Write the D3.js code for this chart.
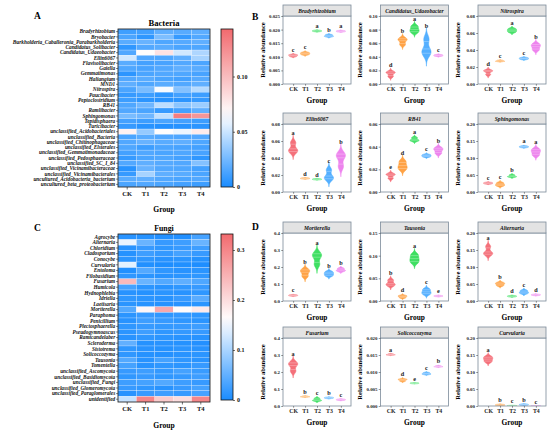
<!DOCTYPE html>
<html>
<head>
<meta charset="utf-8">
<script src="https://cdn.jsdelivr.net/npm/d3@7"></script>
<style>
  html, body { margin: 0; padding: 0; background: #fff; }
  svg { display: block; }
</style>
</head>
<body>
<div id="vis"></div>
<script>
const groups = ["CK", "T1", "T2", "T3", "T4"];

// ---- heatmap A: bacteria genera ----
const bacteriaTaxa = [
  "Bradyrhizobium", "Bryobacter", "Burkholderia_Caballeronia_Paraburkholderia",
  "Candidatus_Solibacter", "Candidatus_Udaeobacter", "Ellin6067", "Flavisolibacter",
  "Gaiella", "Gemmatimonas", "Haliangium", "MND1", "Nitrospira", "Paucibacter",
  "Peptoclostridium", "RB41", "Ramlibacter", "Sphingomonas", "Tepidisphaera",
  "Turicibacter", "unclassified_Acidobacteriales", "unclassified_Bacteria",
  "unclassified_Chitinophagaceae", "unclassified_Elsterales",
  "unclassified_Gemmatimonadaceae", "unclassified_Pedosphaeraceae",
  "unclassified_SC_I_84", "unclassified_Vicinamibacteraceae",
  "unclassified_Vicinamibacterales", "uncultured_Acidobacteria_bacterium",
  "uncultured_beta_proteobacterium"
];
const bacteriaValues = [
  [0.0105, 0.0112, 0.0195, 0.0177, 0.0194],
  [0.014, 0.006, 0.028, 0.008, 0.016],
  [0.018, 0.022, 0.015, 0.017, 0.020],
  [0.006, 0.016, 0.018, 0.014, 0.015],
  [0.016, 0.066, 0.080, 0.052, 0.042],
  [0.052, 0.016, 0.015, 0.020, 0.040],
  [0.018, 0.012, 0.013, 0.016, 0.014],
  [0.015, 0.013, 0.016, 0.020, 0.018],
  [0.005, 0.014, 0.016, 0.015, 0.013],
  [0.016, 0.018, 0.014, 0.012, 0.017],
  [0.020, 0.015, 0.018, 0.016, 0.020],
  [0.014, 0.027, 0.063, 0.030, 0.044],
  [0.008, 0.010, 0.006, 0.012, 0.010],
  [0.010, 0.005, 0.004, 0.005, 0.008],
  [0.015, 0.024, 0.046, 0.032, 0.037],
  [0.016, 0.014, 0.008, 0.012, 0.020],
  [0.027, 0.024, 0.047, 0.133, 0.120],
  [0.012, 0.010, 0.014, 0.012, 0.010],
  [0.008, 0.004, 0.003, 0.004, 0.005],
  [0.072, 0.035, 0.066, 0.060, 0.075],
  [0.014, 0.018, 0.016, 0.015, 0.016],
  [0.016, 0.022, 0.018, 0.020, 0.015],
  [0.015, 0.010, 0.014, 0.013, 0.012],
  [0.012, 0.016, 0.014, 0.015, 0.013],
  [0.008, 0.014, 0.015, 0.012, 0.006],
  [0.016, 0.020, 0.017, 0.016, 0.030],
  [0.004, 0.022, 0.016, 0.015, 0.012],
  [0.008, 0.040, 0.020, 0.018, 0.014],
  [0.018, 0.020, 0.016, 0.014, 0.016],
  [0.014, 0.016, 0.014, 0.012, 0.010]
];
const bacteriaScale = [0, 0.065, 0.143];
const bacteriaTicks = [0, 0.05, 0.10];

// ---- heatmap C: fungal genera ----
const fungiTaxa = [
  "Agrocybe", "Alternaria", "Chloridium", "Cladosporium", "Conocybe", "Curvularia",
  "Entoloma", "Filobasidium", "Fusarium", "Humicola", "Hydnophlebia", "Idriella",
  "Laetisaria", "Mortierella", "Paraphoma", "Penicillium", "Plectosphaerella",
  "Pseudogymnoascus", "Ramicandelaber", "Scleroderma", "Sistotrema", "Solicoccozyma",
  "Tausonia", "Tomentella", "unclassified_Ascomycota", "unclassified_Basidiomycota",
  "unclassified_Fungi", "unclassified_Glomeromycota", "unclassified_Paraglomerales",
  "unidentified"
];
const fungiValues = [
  [0.010, 0.008, 0.006, 0.004, 0.030],
  [0.145, 0.055, 0.020, 0.025, 0.055],
  [0.010, 0.020, 0.015, 0.020, 0.025],
  [0.008, 0.025, 0.018, 0.030, 0.020],
  [0.012, 0.015, 0.010, 0.012, 0.008],
  [0.140, 0.005, 0.003, 0.005, 0.003],
  [0.005, 0.040, 0.015, 0.010, 0.012],
  [0.015, 0.012, 0.010, 0.012, 0.015],
  [0.240, 0.055, 0.040, 0.048, 0.037],
  [0.030, 0.012, 0.010, 0.015, 0.020],
  [0.010, 0.008, 0.012, 0.010, 0.015],
  [0.015, 0.012, 0.010, 0.020, 0.045],
  [0.012, 0.010, 0.008, 0.010, 0.012],
  [0.040, 0.170, 0.260, 0.165, 0.185],
  [0.012, 0.020, 0.015, 0.018, 0.015],
  [0.010, 0.025, 0.020, 0.015, 0.012],
  [0.015, 0.020, 0.018, 0.020, 0.025],
  [0.012, 0.025, 0.015, 0.018, 0.020],
  [0.010, 0.015, 0.012, 0.010, 0.010],
  [0.050, 0.008, 0.010, 0.008, 0.006],
  [0.015, 0.010, 0.008, 0.012, 0.010],
  [0.015, 0.008, 0.007, 0.010, 0.012],
  [0.040, 0.010, 0.030, 0.015, 0.011],
  [0.030, 0.010, 0.015, 0.012, 0.020],
  [0.020, 0.025, 0.018, 0.030, 0.022],
  [0.015, 0.020, 0.015, 0.018, 0.025],
  [0.025, 0.030, 0.040, 0.025, 0.020],
  [0.020, 0.015, 0.010, 0.020, 0.030],
  [0.010, 0.020, 0.025, 0.020, 0.030],
  [0.120, 0.300, 0.220, 0.200, 0.300]
];
const fungiScale = [0, 0.16, 0.332];
const fungiTicks = [0, 0.1, 0.2, 0.3];

// ---- violins B: replicate relative abundances per group ----
const bacteriaGenera = ["Bradyrhizobium", "Candidatus_Udaeobacter", "Nitrospira",
                        "Ellin6067", "RB41", "Sphingomonas"];
const bacteriaReplicates = [
  [[0.0101, 0.0105, 0.0108], [0.0108, 0.0112, 0.0116], [0.0193, 0.0195, 0.0197], [0.0174, 0.0177, 0.0181], [0.0192, 0.0194, 0.0196]],
  [[0.011, 0.016, 0.018], [0.058, 0.064, 0.067], [0.076, 0.080, 0.085], [0.044, 0.050, 0.066], [0.041, 0.042, 0.043]],
  [[0.011, 0.015, 0.016], [0.0265, 0.027, 0.0278], [0.061, 0.063, 0.065], [0.029, 0.030, 0.031], [0.040, 0.044, 0.047]],
  [[0.047, 0.050, 0.058], [0.0155, 0.016, 0.0165], [0.0145, 0.015, 0.0155], [0.015, 0.018, 0.026], [0.030, 0.041, 0.045]],
  [[0.012, 0.015, 0.016], [0.020, 0.023, 0.027], [0.045, 0.046, 0.048], [0.031, 0.032, 0.033], [0.034, 0.037, 0.039]],
  [[0.024, 0.026, 0.028], [0.018, 0.022, 0.027], [0.044, 0.046, 0.050], [0.131, 0.133, 0.135], [0.108, 0.118, 0.126]]
];
const bacteriaLetters = [
  ["c", "c", "a", "b", "a"], ["d", "b", "a", "b", "c"], ["d", "c", "a", "c", "b"],
  ["a", "d", "d", "c", "b"], ["e", "d", "a", "c", "b"], ["c", "c", "b", "a", "a"]
];
const bacteriaYMax = [0.025, 0.10, 0.08, 0.08, 0.06, 0.20];
const bacteriaYStep = [0.005, 0.02, 0.02, 0.02, 0.02, 0.05];

// ---- violins D ----
const fungiGenera = ["Mortierella", "Tausonia", "Alternaria",
                     "Fusarium", "Solicoccozyma", "Curvularia"];
const fungiReplicates = [
  [[0.030, 0.033, 0.036], [0.145, 0.170, 0.185], [0.215, 0.260, 0.280], [0.148, 0.160, 0.172], [0.175, 0.182, 0.192]],
  [[0.034, 0.038, 0.046], [0.007, 0.010, 0.012], [0.085, 0.093, 0.102], [0.015, 0.020, 0.026], [0.010, 0.011, 0.012]],
  [[0.137, 0.142, 0.160], [0.045, 0.050, 0.054], [0.0125, 0.014, 0.0155], [0.022, 0.026, 0.031], [0.0165, 0.018, 0.0195]],
  [[0.205, 0.240, 0.255], [0.053, 0.055, 0.058], [0.030, 0.035, 0.045], [0.045, 0.048, 0.051], [0.034, 0.037, 0.040]],
  [[0.0150, 0.0151, 0.0153], [0.0073, 0.0077, 0.0079], [0.0066, 0.0067, 0.0068], [0.0093, 0.0095, 0.0098], [0.0115, 0.0116, 0.0118]],
  [[0.130, 0.138, 0.145], [0.0015, 0.003, 0.0045], [0.0004, 0.001, 0.0016], [0.0025, 0.004, 0.0055], [0.0002, 0.0006, 0.0010]]
];
const fungiLetters = [
  ["c", "b", "a", "b", "b"], ["b", "d", "a", "c", "e"], ["a", "b", "d", "c", "d"],
  ["a", "b", "c", "b", "c"], ["a", "d", "e", "c", "b"], ["a", "b", "c", "b", "c"]
];
const fungiYMax = [0.4, 0.15, 0.20, 0.4, 0.020, 0.20];
const fungiYStep = [0.1, 0.05, 0.05, 0.1, 0.005, 0.05];

const groupColors = ["#f3646f", "#ff9a35", "#2fdc55", "#45a8ff", "#ec7aec"];

const font = `"Liberation Serif", "DejaVu Serif", "Times New Roman", serif`;
const frameColor = "#7c8b99";

const svg = d3.select("#vis").append("svg")
  .attr("width", 550).attr("height", 432)
  .style("font-family", font);
svg.append("rect").attr("width", 550).attr("height", 432).attr("fill", "#fff");
const defs = svg.append("defs");

function panelLetter(txt, x, y) {
  svg.append("text").attr("x", x).attr("y", y)
    .attr("font-size", 9.5).attr("font-weight", "bold").text(txt);
}

function drawHeatmap(opt) {
  const g = svg.append("g");
  const x = d3.scaleBand().domain(groups).range([opt.x0, opt.x0 + opt.w]);
  const y = d3.scaleBand().domain(opt.taxa).range([opt.y0, opt.y0 + opt.h]);
  const color = d3.scaleLinear().domain(opt.scale)
    .range(["#1a8cff", "#ffffff", "#f26a6e"]).clamp(true);

  opt.taxa.forEach((t, i) => {
    g.selectAll(null).data(opt.values[i]).join("rect")
      .attr("x", (d, j) => x(groups[j]))
      .attr("y", y(t))
      .attr("width", x.bandwidth())
      .attr("height", y.bandwidth())
      .attr("fill", d => color(d))
      .attr("stroke", "#ffffff").attr("stroke-opacity", 0.55).attr("stroke-width", 0.4);
  });
  g.append("rect").attr("x", opt.x0).attr("y", opt.y0)
    .attr("width", opt.w).attr("height", opt.h)
    .attr("fill", "none").attr("stroke", "#111").attr("stroke-width", 0.8);

  const yAxis = g.append("g").attr("transform", `translate(${opt.x0},0)`)
    .call(d3.axisLeft(y).tickSize(2).tickPadding(0.8));
  yAxis.select(".domain").remove();
  yAxis.selectAll("line").attr("stroke", "#111").attr("stroke-width", 0.5);
  yAxis.selectAll("text").attr("font-family", font).attr("font-size", 5.3)
    .attr("font-style", "italic").attr("font-weight", "bold").attr("fill", "#111");

  const xAxis = g.append("g").attr("transform", `translate(0,${opt.y0 + opt.h})`)
    .call(d3.axisBottom(x).tickSize(2.5).tickPadding(2));
  xAxis.select(".domain").remove();
  xAxis.selectAll("line").attr("stroke", "#111").attr("stroke-width", 0.6);
  xAxis.selectAll("text").attr("font-family", font).attr("font-size", 6.5)
    .attr("font-weight", "bold").attr("fill", "#111");

  g.append("text").attr("x", opt.x0 + opt.w / 2).attr("y", opt.groupY)
    .attr("text-anchor", "middle").attr("font-size", 7.6).attr("font-weight", "bold")
    .text("Group");
  g.append("text").attr("x", opt.x0 + opt.w / 2).attr("y", opt.titleY)
    .attr("text-anchor", "middle").attr("font-size", opt.titleSize).attr("font-weight", "bold")
    .text(opt.title);

  // colour bar
  const cb = d3.scaleLinear().domain([opt.scale[0], opt.scale[2]])
    .range([opt.cbBottom, opt.y0]);
  const gradId = "grad-" + opt.title;
  const grad = defs.append("linearGradient").attr("id", gradId)
    .attr("x1", 0).attr("y1", 1).attr("x2", 0).attr("y2", 0);
  d3.range(0, 11).forEach(i => {
    const v = opt.scale[0] + (opt.scale[2] - opt.scale[0]) * i / 10;
    grad.append("stop").attr("offset", i / 10).attr("stop-color", color(v));
  });
  g.append("rect").attr("x", opt.cbX).attr("y", opt.y0)
    .attr("width", 12).attr("height", opt.cbBottom - opt.y0)
    .attr("fill", `url(#${gradId})`).attr("stroke", "#111").attr("stroke-width", 0.8);
  const cbAxis = g.append("g").attr("transform", `translate(${opt.cbX + 12},0)`)
    .call(d3.axisRight(cb).tickValues(opt.ticks).tickSize(2).tickPadding(2)
      .tickFormat(d => d === 0 ? "0" : d3.format(opt.tickFmt)(d)));
  cbAxis.select(".domain").remove();
  cbAxis.selectAll("line").attr("stroke", "#111").attr("stroke-width", 0.6);
  cbAxis.selectAll("text").attr("font-family", font).attr("font-size", 6)
    .attr("font-weight", "bold").attr("fill", "#111");
}

// kernel density, gaussian kernel with R's nrd0 bandwidth
function bandwidth(v) {
  const s = d3.deviation(v);
  const sorted = v.slice().sort(d3.ascending);
  const iqr = d3.quantileSorted(sorted, 0.75) - d3.quantileSorted(sorted, 0.25);
  let lo = Math.min(s, iqr / 1.34);
  if (!(lo > 0)) lo = s || Math.abs(v[0]) || 1;
  return 0.9 * lo * Math.pow(v.length, -0.2);
}
function density(v) {
  const bw = bandwidth(v);
  const lo = d3.min(v) - 3 * bw, hi = d3.max(v) + 3 * bw;
  const grid = d3.range(0, 101).map(i => lo + (hi - lo) * i / 100);
  const pts = grid.map(t => [t, d3.mean(v, d => Math.exp(-0.5 * ((t - d) / bw) ** 2))]);
  return { pts, bw };
}

function drawViolinPanel(name, reps, letters, yMax, yStep, x0, top) {
  const w = 68, stripH = 11;
  const plotTop = top + stripH, plotBottom = top + 79;
  const g = svg.append("g");
  const x = d3.scalePoint().domain(groups).range([x0, x0 + w]).padding(0.85);
  const y = d3.scaleLinear().domain([0, yMax]).range([plotBottom, plotTop]);
  const halfW = 4.6;

  const clipId = "clip-" + name;
  defs.append("clipPath").attr("id", clipId).append("rect")
    .attr("x", x0).attr("y", plotTop).attr("width", w).attr("height", plotBottom - plotTop);

  g.append("rect").attr("x", x0).attr("y", plotTop).attr("width", w)
    .attr("height", plotBottom - plotTop).attr("fill", "#fff");

  const vg = g.append("g").attr("clip-path", `url(#${clipId})`);
  reps.forEach((v, j) => {
    const { pts, bw } = density(v);
    const maxD = d3.max(pts, d => d[1]);
    const cx = x(groups[j]);
    const area = d3.area()
      .x0(d => cx - halfW * d[1] / maxD)
      .x1(d => cx + halfW * d[1] / maxD)
      .y(d => y(d[0]))
      .curve(d3.curveBasis);
    vg.append("path").attr("d", area(pts))
      .attr("fill", groupColors[j]).attr("fill-opacity", 0.92)
      .attr("stroke", groupColors[j]).attr("stroke-width", 0.5);

    // quantile lines from the density's cumulative distribution
    const cum = [0];
    for (let i = 1; i < pts.length; i++) {
      cum.push(cum[i - 1] + (pts[i][1] + pts[i - 1][1]) / 2);
    }
    const total = cum[cum.length - 1];
    [0.25, 0.5, 0.75].forEach(q => {
      const i = d3.bisectLeft(cum, q * total);
      const p = pts[Math.min(i, pts.length - 1)];
      const hw = halfW * p[1] / maxD;
      vg.append("line")
        .attr("x1", cx - hw).attr("x2", cx + hw)
        .attr("y1", y(p[0])).attr("y2", y(p[0]))
        .attr("stroke", "#ffffff").attr("stroke-opacity", 0.55).attr("stroke-width", 0.5);
    });

    g.append("text").attr("x", cx).attr("y", y(d3.max(v) + 2.2 * bw) - 1.8)
      .attr("text-anchor", "middle").attr("font-size", 6.2).attr("font-weight", "bold")
      .attr("fill", "#222").text(letters[j]);
  });

  g.append("rect").attr("x", x0).attr("y", plotTop).attr("width", w)
    .attr("height", plotBottom - plotTop).attr("fill", "none")
    .attr("stroke", frameColor).attr("stroke-width", 0.8);
  g.append("rect").attr("x", x0).attr("y", top).attr("width", w).attr("height", stripH)
    .attr("fill", "#e3e3e3").attr("stroke", frameColor).attr("stroke-width", 0.8);
  g.append("text").attr("x", x0 + w / 2).attr("y", top + stripH / 2 + 2)
    .attr("text-anchor", "middle").attr("font-size", 5.6)
    .attr("font-style", "italic").attr("font-weight", "bold").attr("fill", "#111")
    .text(name);

  const ticks = d3.range(0, yMax + yStep / 2, yStep);
  const yAxis = g.append("g").attr("transform", `translate(${x0},0)`)
    .call(d3.axisLeft(y).tickValues(ticks).tickSize(1.8).tickPadding(1.2)
      .tickFormat(d3.format("." + d3.precisionFixed(yStep) + "f")));
  yAxis.select(".domain").remove();
  yAxis.selectAll("line").attr("stroke", "#333").attr("stroke-width", 0.5);
  yAxis.selectAll("text").attr("font-family", font).attr("font-size", 4.9)
    .attr("font-weight", "bold").attr("fill", "#222");

  const xAxis = g.append("g").attr("transform", `translate(0,${plotBottom})`)
    .call(d3.axisBottom(x).tickSize(1.8).tickPadding(1.5));
  xAxis.select(".domain").remove();
  xAxis.selectAll("line").attr("stroke", "#333").attr("stroke-width", 0.5);
  xAxis.selectAll("text").attr("font-family", font).attr("font-size", 5.8)
    .attr("font-weight", "bold").attr("fill", "#222");

  g.append("text").attr("x", x0 + w / 2).attr("y", plotBottom + 18.5)
    .attr("text-anchor", "middle").attr("font-size", 7.4).attr("font-weight", "bold")
    .text("Group");
  const cy = (plotTop + plotBottom) / 2;
  g.append("text").attr("transform", `translate(${x0 - 18.5},${cy}) rotate(-90)`)
    .attr("text-anchor", "middle").attr("font-size", 6.6).attr("font-weight", "bold")
    .text("Relative abundance");
}

// ---- layout ----
panelLetter("A", 34, 18.5);
panelLetter("C", 34, 230.5);
panelLetter("B", 252, 19.5);
panelLetter("D", 252, 229.5);

drawHeatmap({
  taxa: bacteriaTaxa, values: bacteriaValues, scale: bacteriaScale, ticks: bacteriaTicks,
  tickFmt: ".2f", x0: 118, y0: 29, w: 92, h: 158, cbX: 221, cbBottom: 187,
  title: "Bacteria", titleY: 25.5, titleSize: 8.6, groupY: 211.5
});
drawHeatmap({
  taxa: fungiTaxa, values: fungiValues, scale: fungiScale, ticks: fungiTicks,
  tickFmt: ".1f", x0: 118, y0: 234, w: 92, h: 168, cbX: 221, cbBottom: 400,
  title: "Fungi", titleY: 230.5, titleSize: 7.8, groupY: 428
});

const colX = [283, 380.5, 478];
bacteriaGenera.forEach((name, i) => {
  drawViolinPanel(name, bacteriaReplicates[i], bacteriaLetters[i],
    bacteriaYMax[i], bacteriaYStep[i], colX[i % 3], i < 3 ? 5 : 113);
});
fungiGenera.forEach((name, i) => {
  drawViolinPanel(name, fungiReplicates[i], fungiLetters[i],
    fungiYMax[i], fungiYStep[i], colX[i % 3], i < 3 ? 222 : 327);
});
</script>
</body>
</html>
